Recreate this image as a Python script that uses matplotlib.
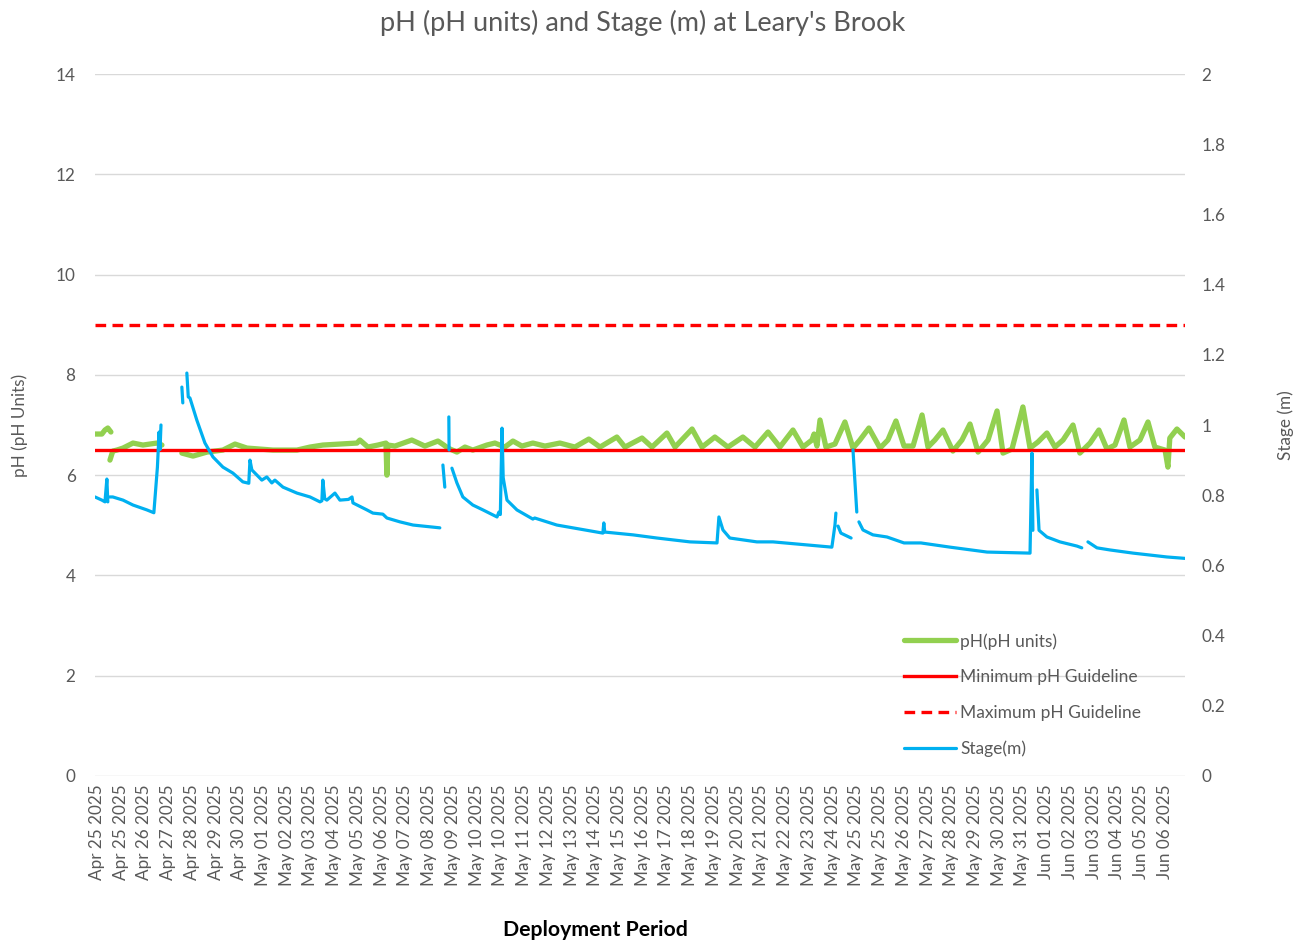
import numpy as np
import matplotlib
matplotlib.use("Agg")
import matplotlib.pyplot as plt
from matplotlib.ticker import FuncFormatter

plt.rcParams['font.family'] = ['Lato', 'DejaVu Sans']

# ---------------- data ----------------
date_labels = [
    "Apr 25 2025", "Apr 25 2025", "Apr 26 2025", "Apr 27 2025", "Apr 28 2025",
    "Apr 29 2025", "Apr 30 2025", "May 01 2025", "May 02 2025", "May 03 2025",
    "May 04 2025", "May 05 2025", "May 06 2025", "May 07 2025", "May 08 2025",
    "May 09 2025", "May 10 2025", "May 10 2025", "May 11 2025", "May 12 2025",
    "May 13 2025", "May 14 2025", "May 15 2025", "May 16 2025", "May 17 2025",
    "May 18 2025", "May 19 2025", "May 20 2025", "May 21 2025", "May 22 2025",
    "May 23 2025", "May 24 2025", "May 25 2025", "May 25 2025", "May 26 2025",
    "May 27 2025", "May 28 2025", "May 29 2025", "May 30 2025", "May 31 2025",
    "Jun 01 2025", "Jun 02 2025", "Jun 03 2025", "Jun 04 2025", "Jun 05 2025",
    "Jun 06 2025",
]

nan = np.nan
# sample position (in label-index units) and pH values; nan = gap in record
ph_t = [-0.08, 0.21, 0.34, 0.46, 0.59, nan,
        0.55, 0.67, 0.84, 1.10, 1.52, 1.94, 2.23, 2.53, 2.74, nan,
        3.58, 4.05, 4.64, 5.31, 5.82, 6.32, 7.42, 8.43, 8.98, 9.52, 10.24,
        10.96, 11.08, 11.42, 11.84, 12.18, 12.22, 12.26, 12.56, 13.27, 13.82,
        14.37, 14.62, 14.79, 15.17, 15.51, 15.84, 16.43, 16.77, 17.19, 17.53,
        17.91, 18.37, 18.88, 19.51, 20.14, 20.73, 21.20, 21.91, 22.25, 22.97,
        23.39, 24.02, 24.36, 25.08, 25.50, 26.04, 26.59, 27.22, 27.73, 28.28,
        28.78, 29.33, 29.75, 30.13, 30.22, 30.34, 30.47, 30.72, 31.10, 31.52,
        31.86, 32.15, 32.53, 33.00, 33.33, 33.67, 34.01, 34.39, 34.77, 35.02,
        35.31, 35.65, 36.07, 36.45, 36.79, 37.13, 37.55, 37.93, 38.18, 38.56,
        39.02, 39.32, 39.65, 40.03, 40.37, 40.71, 41.13, 41.42, 41.85, 42.22,
        42.56, 42.90, 43.28, 43.53, 43.95, 44.29, 44.58, 45.01, 45.13, 45.21,
        45.51, 45.85]
ph_v = [6.82, 6.82, 6.90, 6.94, 6.86, nan,
        6.30, 6.48, 6.50, 6.54, 6.64, 6.60, 6.62, 6.64, 6.60, nan,
        6.44, 6.38, 6.46, 6.50, 6.62, 6.54, 6.50, 6.50, 6.56, 6.60, 6.62,
        6.64, 6.70, 6.56, 6.60, 6.64, 6.00, 6.60, 6.58, 6.70, 6.58,
        6.68, 6.60, 6.54, 6.46, 6.56, 6.50, 6.60, 6.64, 6.56, 6.68,
        6.58, 6.64, 6.58, 6.64, 6.56, 6.72, 6.56, 6.76, 6.56, 6.74,
        6.56, 6.84, 6.56, 6.92, 6.56, 6.76, 6.56, 6.76, 6.56, 6.86,
        6.56, 6.90, 6.56, 6.70, 6.82, 6.58, 7.10, 6.56, 6.62, 7.06,
        6.54, 6.70, 6.94, 6.54, 6.70, 7.08, 6.58, 6.58, 7.20, 6.56,
        6.70, 6.90, 6.48, 6.70, 7.02, 6.46, 6.70, 7.28, 6.44, 6.52,
        7.36, 6.54, 6.66, 6.84, 6.56, 6.70, 7.00, 6.44, 6.64, 6.90,
        6.52, 6.60, 7.10, 6.56, 6.70, 7.06, 6.56, 6.50, 6.16, 6.74,
        6.92, 6.76]

stage_t = [-0.08, 0.21, 0.34, 0.42, 0.46, nan,
           0.55, 0.67, 1.10, 1.52, 2.11, 2.32, 2.40, 2.55, 2.62, 2.66, 2.70, nan,
           3.58, 3.62, nan,
           3.79, 3.85, 3.92, 4.21, 4.55, 4.89, 5.31, 5.73, 6.15, 6.40, 6.45, 6.53,
           6.95, 7.16, 7.37, 7.50, 7.84, 8.43, 8.98, 9.40, 9.48, 9.52, 9.60, 9.69,
           10.03, 10.24, 10.60, 10.75, 10.79, 11.38, 11.63, 12.05, 12.22, 12.77,
           13.32, 14.45, nan,
           14.58, 14.66, nan,
           14.83, 14.84, nan,
           14.96, 15.17, 15.42, 15.84, 16.27, 16.86, 16.94, 17.00, 17.07, 17.12,
           17.28, 17.70, 18.37, 18.45, 19.38, 20.06, 21.32, 21.36, 21.40, 22.59,
           23.60, 24.99, 26.13, 26.21, 26.38, 26.67, 27.81, 28.49, 30.47, 30.97,
           31.10, 31.14, nan,
           31.23, 31.35, 31.78, nan,
           31.86, 32.02, nan,
           32.11, 32.28, 32.70, 33.29, 34.01, 34.72, 35.95, 37.51, 39.32, 39.40,
           39.44, nan,
           39.61, 39.70, 40.03, 40.58, 41.30, 41.50, nan,
           41.76, 42.14, 42.69, 43.66, 45.09, 45.85]
stage_v = [0.795, 0.786, 0.781, 0.846, 0.781, nan,
           0.795, 0.795, 0.786, 0.772, 0.758, 0.752, 0.750, 0.880, 0.980, 0.930, 1.000, nan,
           1.108, 1.063, nan,
           1.148, 1.080, 1.077, 1.014, 0.949, 0.909, 0.880, 0.863, 0.838, 0.834, 0.900, 0.872,
           0.843, 0.852, 0.835, 0.843, 0.823, 0.806, 0.795, 0.781, 0.784, 0.843, 0.790, 0.786,
           0.806, 0.786, 0.788, 0.795, 0.778, 0.758, 0.749, 0.746, 0.735, 0.724,
           0.715, 0.707, nan,
           0.886, 0.823, nan,
           1.023, 0.929, nan,
           0.877, 0.835, 0.795, 0.772, 0.758, 0.738, 0.752, 0.745, 0.991, 0.850,
           0.786, 0.758, 0.732, 0.735, 0.715, 0.707, 0.692, 0.721, 0.695, 0.687,
           0.678, 0.667, 0.664, 0.738, 0.701, 0.678, 0.667, 0.667, 0.655, 0.652,
           0.715, 0.749, nan,
           0.712, 0.692, 0.678, nan,
           0.929, 0.752, nan,
           0.724, 0.701, 0.687, 0.681, 0.664, 0.664, 0.652, 0.638, 0.635, 0.920,
           0.700, nan,
           0.815, 0.700, 0.681, 0.667, 0.655, 0.650, nan,
           0.667, 0.650, 0.644, 0.635, 0.624, 0.620]

ph_min_guideline = 6.5
ph_max_guideline = 9.0

# ---------------- figure ----------------
W, H = 1308, 942
fig = plt.figure(figsize=(W / 100, H / 100), dpi=100)
ax = fig.add_axes([95 / W, 1 - 776 / H, (1185 - 95) / W, (776 - 74) / H])
ax2 = ax.twinx()

grey = "#595959"
green = "#92D050"
blue = "#00B0F0"
red = "#FF0000"

xmin, xmax = -0.08, 45.85

h_ph, = ax.plot(ph_t, ph_v, color=green, lw=3.8, solid_capstyle='round',
                solid_joinstyle='round', label="pH(pH units)", zorder=3)
h_min, = ax.plot([xmin, xmax], [ph_min_guideline] * 2, color=red, lw=2.4,
                 label="Minimum pH Guideline", zorder=4)
h_max, = ax.plot([xmin, xmax], [ph_max_guideline] * 2, color=red, lw=2.4,
                 ls=(0, (3.2, 1.9)), label="Maximum pH Guideline", zorder=4)
h_st, = ax2.plot(stage_t, stage_v, color=blue, lw=2.3, solid_capstyle='round',
                 solid_joinstyle='round', label="Stage(m)", zorder=5)

ax.set_xlim(xmin, xmax)
ax.set_ylim(0, 14)
ax2.set_ylim(0, 2)
ax.set_yticks(np.arange(0, 15, 2))
ax2.set_yticks(np.arange(0, 2.01, 0.2))
ax2.yaxis.set_major_formatter(FuncFormatter(lambda v, p: f"{v:.1f}".rstrip('0').rstrip('.')))

ax.set_xticks(np.arange(len(date_labels)))
ax.set_xticklabels(date_labels, rotation=90, fontsize=12.3, color=grey)

ax.grid(axis='y', color="#D9D9D9", lw=1.0, zorder=0)
ax.set_axisbelow(True)
for a in (ax, ax2):
    for s in a.spines.values():
        s.set_visible(False)
    a.tick_params(length=0)
ax.tick_params(axis='y', labelsize=12.3, labelcolor=grey, pad=14)
ax2.tick_params(axis='y', labelsize=12.3, labelcolor=grey, pad=12)
ax.tick_params(axis='x', pad=6)

ax.set_ylabel("pH (pH Units)", fontsize=12.3, color=grey, labelpad=20)
ax2.set_ylabel("Stage (m)", fontsize=12.3, color=grey, labelpad=37)

fig.text(643 / W, 1 - 23 / H, "pH (pH units) and Stage (m) at Leary's Brook",
         ha='center', va='center', fontsize=19.5, color=grey)
fig.text(595 / W, 1 - 930 / H, "Deployment Period", ha='center', va='center',
         fontsize=15.3, fontweight='bold', color='black')

leg = ax2.legend(handles=[h_ph, h_min, h_max, h_st], loc='upper left',
                 bbox_to_anchor=(897 / W, 1 - 626 / H), bbox_transform=fig.transFigure,
                 frameon=False, fontsize=12.5, handlelength=3.0, handletextpad=0.25,
                 labelspacing=1.14, borderaxespad=0)
for t in leg.get_texts():
    t.set_color(grey)

fig.savefig("out.png", dpi=100)
